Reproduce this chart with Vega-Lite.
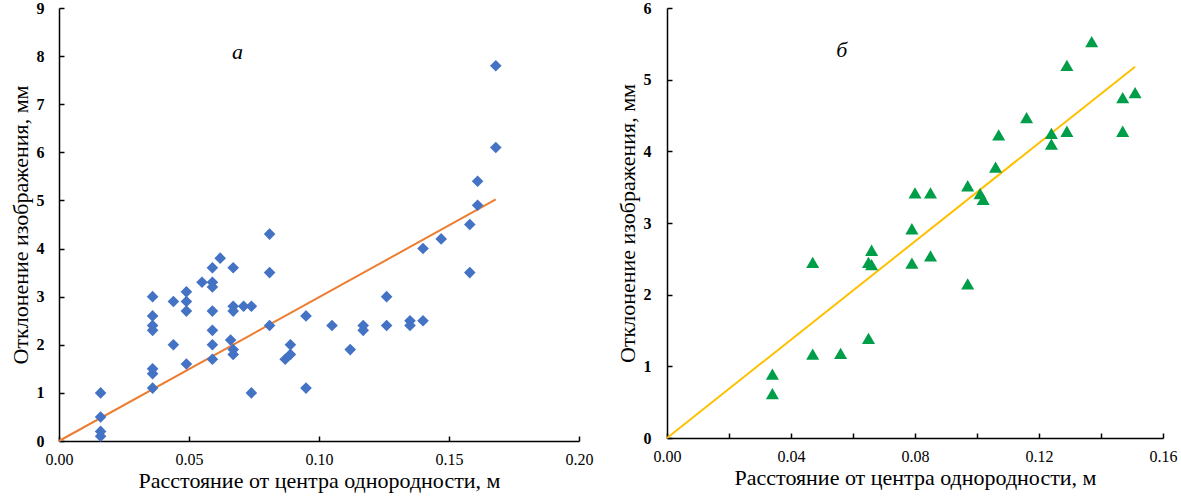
{
  "$schema": "https://vega.github.io/schema/vega-lite/v6.json",
  "background": "white",
  "padding": {"left": 9, "top": 0, "right": 2, "bottom": 2},
  "spacing": 23,
  "config": {
    "view": {"stroke": null},
    "style": {
      "guide-label": {"font": "Liberation Serif", "fontSize": 16, "fill": "black"},
      "guide-title": {"font": "Liberation Serif", "fontSize": 22, "fill": "black", "fontWeight": "normal"}
    },
    "axis": {
      "grid": false,
      "domainColor": "black",
      "domainWidth": 1.5,
      "tickColor": "black",
      "tickWidth": 1.5,
      "tickSize": -5,
      "labelFlush": false,
      "labelFont": "Liberation Serif",
      "labelFontSize": 16,
      "labelColor": "black",
      "titleFont": "Liberation Serif",
      "titleFontSize": 22,
      "titleFontWeight": "normal",
      "titleColor": "black"
    }
  },
  "datasets": {
    "a": [
      {"x": 0.016, "y": 1.0}, {"x": 0.016, "y": 0.5}, {"x": 0.016, "y": 0.2}, {"x": 0.016, "y": 0.1},
      {"x": 0.036, "y": 3.0}, {"x": 0.036, "y": 2.6}, {"x": 0.036, "y": 2.4}, {"x": 0.036, "y": 2.3}, {"x": 0.036, "y": 1.5}, {"x": 0.036, "y": 1.4}, {"x": 0.036, "y": 1.1},
      {"x": 0.044, "y": 2.9}, {"x": 0.044, "y": 2.0},
      {"x": 0.049, "y": 3.1}, {"x": 0.049, "y": 2.9}, {"x": 0.049, "y": 2.7}, {"x": 0.049, "y": 1.6},
      {"x": 0.055, "y": 3.3},
      {"x": 0.059, "y": 3.6}, {"x": 0.059, "y": 3.3}, {"x": 0.059, "y": 3.2}, {"x": 0.059, "y": 2.7}, {"x": 0.059, "y": 2.3}, {"x": 0.059, "y": 2.0}, {"x": 0.059, "y": 1.7},
      {"x": 0.062, "y": 3.8},
      {"x": 0.067, "y": 3.6}, {"x": 0.067, "y": 2.8}, {"x": 0.067, "y": 2.7}, {"x": 0.066, "y": 2.1}, {"x": 0.067, "y": 1.9}, {"x": 0.067, "y": 1.8},
      {"x": 0.071, "y": 2.8}, {"x": 0.074, "y": 2.8}, {"x": 0.074, "y": 1.0},
      {"x": 0.081, "y": 4.3}, {"x": 0.081, "y": 3.5}, {"x": 0.081, "y": 2.4},
      {"x": 0.087, "y": 1.7}, {"x": 0.089, "y": 2.0}, {"x": 0.089, "y": 1.8},
      {"x": 0.095, "y": 2.6}, {"x": 0.095, "y": 1.1},
      {"x": 0.105, "y": 2.4}, {"x": 0.112, "y": 1.9}, {"x": 0.117, "y": 2.4}, {"x": 0.117, "y": 2.3},
      {"x": 0.126, "y": 3.0}, {"x": 0.126, "y": 2.4},
      {"x": 0.135, "y": 2.5}, {"x": 0.135, "y": 2.4},
      {"x": 0.14, "y": 4.0}, {"x": 0.14, "y": 2.5},
      {"x": 0.147, "y": 4.2},
      {"x": 0.158, "y": 4.5}, {"x": 0.158, "y": 3.5},
      {"x": 0.161, "y": 5.4}, {"x": 0.161, "y": 4.9},
      {"x": 0.168, "y": 7.8}, {"x": 0.168, "y": 6.1}
    ],
    "aline": [{"x": 0, "y": 0}, {"x": 0.168, "y": 5.02}],
    "b": [
      {"x": 0.034, "y": 0.89}, {"x": 0.034, "y": 0.62},
      {"x": 0.047, "y": 2.45}, {"x": 0.047, "y": 1.17},
      {"x": 0.056, "y": 1.18},
      {"x": 0.065, "y": 1.39}, {"x": 0.066, "y": 2.62}, {"x": 0.065, "y": 2.45}, {"x": 0.066, "y": 2.42},
      {"x": 0.079, "y": 2.92}, {"x": 0.080, "y": 3.42}, {"x": 0.079, "y": 2.44},
      {"x": 0.085, "y": 3.42}, {"x": 0.085, "y": 2.54},
      {"x": 0.097, "y": 3.52}, {"x": 0.097, "y": 2.15},
      {"x": 0.101, "y": 3.41}, {"x": 0.102, "y": 3.33},
      {"x": 0.106, "y": 3.78}, {"x": 0.107, "y": 4.23},
      {"x": 0.116, "y": 4.47},
      {"x": 0.124, "y": 4.25}, {"x": 0.124, "y": 4.10},
      {"x": 0.129, "y": 4.28}, {"x": 0.129, "y": 5.20},
      {"x": 0.137, "y": 5.53},
      {"x": 0.147, "y": 4.75}, {"x": 0.147, "y": 4.28},
      {"x": 0.151, "y": 4.82}
    ],
    "bline": [{"x": 0, "y": 0}, {"x": 0.151, "y": 5.18}]
  },
  "hconcat": [
    {
      "width": 520,
      "height": 433,
      "layer": [
        {
          "data": {"name": "aline"},
          "mark": {"type": "line", "color": "#ED7D31", "strokeWidth": 2},
          "encoding": {
            "x": {"field": "x", "type": "quantitative", "scale": {"domain": [0, 0.2], "nice": false},
              "axis": {"values": [0, 0.05, 0.1, 0.15, 0.2], "format": ".2f", "labelPadding": 15, "titlePadding": 3,
                "labelFont": "Liberation Serif", "titleFont": "Liberation Serif",
                "title": "Расстояние от центра однородности, м"}},
            "y": {"field": "y", "type": "quantitative", "scale": {"domain": [0, 9], "nice": false},
              "axis": {"values": [0, 1, 2, 3, 4, 5, 6, 7, 8, 9], "format": "d", "labelPadding": 20, "titlePadding": 4,
                "labelFontWeight": "bold", "labelFont": "Liberation Serif", "titleFont": "Liberation Serif",
                "title": "Отклонение изображения, мм"}}
          }
        },
        {
          "data": {"name": "a"},
          "mark": {"type": "point", "shape": "diamond", "filled": true, "color": "#4472C4", "size": 135, "opacity": 1},
          "encoding": {
            "x": {"field": "x", "type": "quantitative"},
            "y": {"field": "y", "type": "quantitative"}
          }
        },
        {
          "data": {"values": [{}]},
          "mark": {"type": "text", "text": "а", "fontSize": 22, "fontStyle": "italic", "font": "Liberation Serif", "color": "black"},
          "encoding": {
            "x": {"datum": 0.0687, "type": "quantitative"},
            "y": {"datum": 8.09, "type": "quantitative"}
          }
        }
      ]
    },
    {
      "width": 496,
      "height": 430,
      "layer": [
        {
          "data": {"name": "bline"},
          "mark": {"type": "line", "color": "#FFC000", "strokeWidth": 2},
          "encoding": {
            "x": {"field": "x", "type": "quantitative", "scale": {"domain": [0, 0.16], "nice": false},
              "axis": {"values": [0, 0.02, 0.04, 0.06, 0.08, 0.1, 0.12, 0.14, 0.16],
                "labelExpr": "round(datum.value * 50) % 2 == 0 ? format(datum.value, '.2f') : ''",
                "labelPadding": 15, "titlePadding": 3,
                "labelFont": "Liberation Serif", "titleFont": "Liberation Serif",
                "title": "Расстояние от центра однородности, м"}},
            "y": {"field": "y", "type": "quantitative", "scale": {"domain": [0, 6], "nice": false},
              "axis": {"values": [0, 1, 2, 3, 4, 5, 6], "format": "d", "labelPadding": 21, "titlePadding": 4,
                "labelFontWeight": "bold", "labelFont": "Liberation Serif", "titleFont": "Liberation Serif",
                "title": "Отклонение изображения, мм"}}
          }
        },
        {
          "data": {"name": "b"},
          "mark": {"type": "point", "shape": "triangle-up", "filled": true, "color": "#009E49", "size": 170, "opacity": 1},
          "encoding": {
            "x": {"field": "x", "type": "quantitative"},
            "y": {"field": "y", "type": "quantitative"}
          }
        },
        {
          "data": {"values": [{}]},
          "mark": {"type": "text", "text": "б", "fontSize": 22, "fontStyle": "italic", "font": "Liberation Serif", "color": "black"},
          "encoding": {
            "x": {"datum": 0.0564, "type": "quantitative"},
            "y": {"datum": 5.41, "type": "quantitative"}
          }
        }
      ]
    }
  ]
}
